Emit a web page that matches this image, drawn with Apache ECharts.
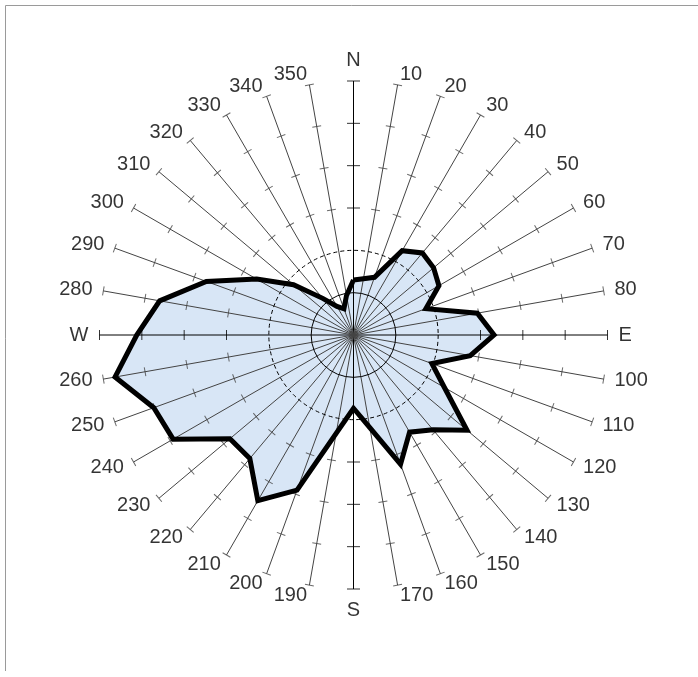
<!DOCTYPE html>
<html>
<head>
<meta charset="utf-8">
<script src="https://cdn.jsdelivr.net/npm/echarts@6/dist/echarts.min.js"></script>
<style>
html,body{margin:0;padding:0;background:#fff;}
#chart{width:698px;height:677px;}
</style>
</head>
<body>
<div id="chart"></div>
<script>
// Directions (degrees, clockwise from north)
const directions = [0,10,20,30,40,50,60,70,80,90,100,110,120,130,140,150,160,170,
                    180,190,200,210,220,230,240,250,260,270,280,290,300,310,320,330,340,350];
// Direction labels
const directionLabels = ['N','10','20','30','40','50','60','70','80','E','100','110','120','130','140','150','160','170',
                         'S','190','200','210','220','230','240','250','260','W','280','290','300','310','320','330','340','350'];
// Series values (radial units, scale 0..6)
const frequency = [1.30,1.35,1.45,2.30,2.53,2.47,2.33,1.82,2.97,3.32,2.80,1.97,2.48,3.50,2.92,2.65,3.25,2.22,
                   1.73,2.36,3.90,4.52,3.81,3.81,4.92,5.02,5.72,5.12,4.65,3.70,2.64,1.85,1.13,0.78,0.66,0.95];
// Radial tick values drawn on every spoke
const spokeTicks = [3,4,5,6];
const radialMax = 6;
const solidRing = 1;
const dashedRing = 2;

const CX = 353.5, CY = 335, R = 254;
const unit = R / radialMax;
const labelRingPx = R + 10.5;

const shapeData = directions.map((d, i) => [frequency[i], d]);
shapeData.push([frequency[0], 360]);

const tickData = [];
directions.forEach(d => {
  const len = (d === 0 || d === 180) ? 13 : (d === 90 || d === 270) ? 10 : 9;
  spokeTicks.forEach(t => {
    tickData.push({
      value: [t, d],
      symbolRotate: 90 - d,
      symbolSize: [1, len],
      itemStyle: { color: (d % 90 === 0) ? '#000' : '#444' }
    });
  });
});

const labelData = directions.map((d, i) => {
  let pos = 'right';
  if (d === 0) pos = 'top';
  else if (d === 180) pos = 'bottom';
  else if (d > 180) pos = 'left';
  return { value: [1, d], name: directionLabels[i], label: { position: pos } };
});

const spokeColors = ['#000','#444','#444','#444','#444','#444','#444','#444','#444'];

function hiddenAngle(idx) {
  return {
    polarIndex: idx, type: 'value', min: 0, max: 360, startAngle: 90, z: 5,
    axisLine: { show: false }, axisTick: { show: false }, axisLabel: { show: false }, splitLine: { show: false }
  };
}

const chart = echarts.init(document.getElementById('chart'), null, { renderer: 'canvas' });
chart.setOption({
  animation: false,
  backgroundColor: '#fff',
  graphic: [{
    type: 'polyline',
    shape: { points: [[5.5, 671], [5.5, 5.5], [698, 5.5]] },
    style: { stroke: '#9a9a9a', lineWidth: 1, fill: null },
    silent: true
  }],
  polar: [
    { center: [CX, CY], radius: R },
    { center: [CX, CY], radius: dashedRing * unit },
    { center: [CX, CY], radius: solidRing * unit },
    { center: [CX, CY], radius: labelRingPx }
  ],
  angleAxis: [
    {
      polarIndex: 0, type: 'value', min: 0, max: 360, interval: 10,
      startAngle: 90, clockwise: true, z: 5,
      axisLine: { show: false }, axisTick: { show: false }, axisLabel: { show: false },
      splitLine: { show: true, lineStyle: { color: spokeColors, width: 1 } }
    },
    {
      polarIndex: 1, type: 'value', min: 0, max: 360, startAngle: 90, z: 5,
      axisLine: { show: true, lineStyle: { color: '#000', width: 1, type: [4, 3] } },
      axisTick: { show: false }, axisLabel: { show: false }, splitLine: { show: false }
    },
    {
      polarIndex: 2, type: 'value', min: 0, max: 360, startAngle: 90, z: 5,
      axisLine: { show: true, lineStyle: { color: '#000', width: 1 } },
      axisTick: { show: false }, axisLabel: { show: false }, splitLine: { show: false }
    },
    hiddenAngle(3)
  ],
  radiusAxis: [
    { polarIndex: 0, type: 'value', min: 0, max: radialMax, show: false },
    { polarIndex: 1, type: 'value', min: 0, max: dashedRing, show: false },
    { polarIndex: 2, type: 'value', min: 0, max: solidRing, show: false },
    { polarIndex: 3, type: 'value', min: 0, max: 1, show: false }
  ],
  series: [
    {
      type: 'line', coordinateSystem: 'polar', polarIndex: 0, z: 1,
      data: shapeData, symbol: 'none', silent: true,
      lineStyle: { width: 0, opacity: 0 },
      areaStyle: { color: '#d8e6f6', opacity: 1 }
    },
    {
      type: 'scatter', coordinateSystem: 'polar', polarIndex: 0, z: 6,
      symbol: 'rect', silent: true, clip: false,
      data: tickData
    },
    {
      type: 'line', coordinateSystem: 'polar', polarIndex: 0, z: 10,
      data: shapeData, symbol: 'none', silent: true,
      lineStyle: { color: '#000', width: 5, join: 'miter', miterLimit: 10 }
    },
    {
      type: 'scatter', coordinateSystem: 'polar', polarIndex: 3, z: 11,
      symbol: 'circle', symbolSize: 1, silent: true, clip: false,
      itemStyle: { color: 'rgba(0,0,0,0)' },
      data: labelData,
      label: {
        show: true, distance: 0, color: '#000',
        fontFamily: 'Liberation Sans, Arial, sans-serif', fontSize: 20,
        formatter: p => p.name
      }
    }
  ]
});
</script>
</body>
</html>
